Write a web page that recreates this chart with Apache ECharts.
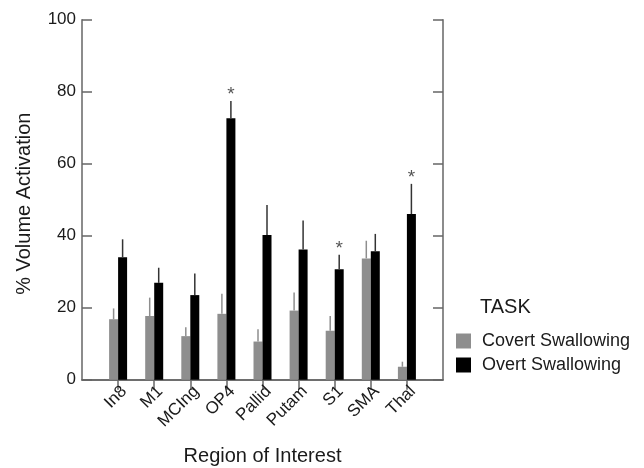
<!DOCTYPE html>
<html><head><meta charset="utf-8">
<script src="https://cdn.jsdelivr.net/npm/echarts@6/dist/echarts.min.js"></script>
<style>html,body{margin:0;padding:0;background:#fff}#c{width:644px;height:468px}</style>
</head><body><div id="c"></div>
<script>
const categories = ['In8','M1','MCIng','OP4','Pallid','Putam','S1','SMA','Thal'];
const covert = [16.8, 17.7, 12.1, 18.3, 10.6, 19.2, 13.6, 33.7, 3.6];
const covertErr = [19.8, 22.8, 14.6, 23.9, 14.0, 24.2, 17.7, 38.6, 5.0];
const overt = [34.0, 26.9, 23.5, 72.6, 40.2, 36.2, 30.7, 35.7, 46.0];
const overtErr = [39.0, 31.1, 29.5, 77.4, 48.5, 44.2, 34.7, 40.5, 54.4];
const significant = [0, 0, 0, 1, 0, 0, 1, 0, 1];
const yTicks = [0, 20, 40, 60, 80, 100];

const pad = a => [null, ...a, null];
const cats = ['', ...categories, ''];
const FONT = 'Liberation Sans, Arial, Helvetica, sans-serif';
const GRAY = '#8e8e8e';
const AXIS = '#666';
const TXT = '#1a1a1a';
const BW = 9;

function errSeries(name, vals, errs, offset, color, sig) {
  const data = pad(vals.map((v, i) => [i + 1, v, errs[i], sig ? sig[i] : 0]));
  return {
    type: 'custom', name: name + 'err', xAxisIndex: 0, yAxisIndex: 0,
    silent: true, z: 5,
    renderItem: (params, api) => {
      const i = api.value(0);
      const p0 = api.coord([i, api.value(1)]);
      const p1 = api.coord([i, api.value(2)]);
      const x = p0[0] + offset;
      const children = [{
        type: 'line',
        shape: { x1: x, y1: p0[1], x2: x, y2: p1[1] },
        style: { stroke: color, lineWidth: 1.5 }
      }];
      if (api.value(3)) {
        children.push({
          type: 'text',
          style: { text: '*', x: x, y: p1[1] + 3, align: 'center', verticalAlign: 'bottom',
                   fill: '#555', fontSize: 19, fontFamily: FONT }
        });
      }
      return { type: 'group', children };
    },
    data: data.map((d, i) => d === null ? [i, null, null, 0] : d)
  };
}

const chart = echarts.init(document.getElementById('c'), null, { renderer: 'canvas' });
chart.setOption({
  animation: false,
  backgroundColor: '#fff',
  textStyle: { fontFamily: FONT },
  title: {
    text: 'TASK', left: 480, top: 297, padding: 0,
    textStyle: { fontSize: 20, fontWeight: 'normal', color: TXT, fontFamily: FONT }
  },
  legend: {
    orient: 'vertical', left: 456, top: 332, itemWidth: 15, itemHeight: 15, itemGap: 6,
    icon: 'rect', padding: 0,
    data: ['Covert Swallowing', 'Overt Swallowing'],
    textStyle: { fontSize: 18, color: TXT, fontFamily: FONT, padding: [0, 0, 0, 6] }
  },
  grid: { left: 82, right: 201, top: 19.7, bottom: 88.3, containLabel: false, outerBoundsMode: 'none' },
  xAxis: [{
    type: 'category', data: cats, boundaryGap: false, position: 'bottom',
    axisLine: { lineStyle: { color: AXIS, width: 1.5 } },
    axisTick: { show: false },
    axisLabel: { rotate: 45, fontSize: 17, color: TXT, margin: 3, interval: 0, fontFamily: FONT,
                 align: 'right', verticalAlign: 'top' },
    name: 'Region of Interest', nameLocation: 'middle', nameGap: 67,
    nameTextStyle: { fontSize: 20, color: TXT, fontFamily: FONT }
  }, {
    type: 'category', data: cats, boundaryGap: false, position: 'top',
    axisLine: { lineStyle: { color: AXIS, width: 1.5 } },
    axisTick: { show: true, inside: true, length: 10, lineStyle: { color: AXIS, width: 1.5 },
                interval: (idx) => idx > 0 && idx < cats.length - 1 },
    axisLabel: { show: false }
  }],
  yAxis: [{
    type: 'value', min: yTicks[0], max: yTicks[yTicks.length - 1], interval: 20, position: 'left',
    axisLine: { show: true, lineStyle: { color: AXIS, width: 1.5 } },
    axisTick: { show: true, inside: true, length: 10, lineStyle: { color: AXIS, width: 1.5 } },
    splitLine: { show: false },
    axisLabel: { fontSize: 17, color: TXT, margin: 6, fontFamily: FONT },
    name: '% Volume Activation', nameLocation: 'middle', nameGap: 48,
    nameTextStyle: { fontSize: 20, color: TXT, fontFamily: FONT, padding: [0, 8, 0, 0] }
  }, {
    type: 'value', min: yTicks[0], max: yTicks[yTicks.length - 1], interval: 20, position: 'right',
    axisLine: { show: true, lineStyle: { color: AXIS, width: 1.5 } },
    axisTick: { show: true, inside: true, length: 10, lineStyle: { color: AXIS, width: 1.5 } },
    splitLine: { show: false },
    axisLabel: { show: false }
  }],
  series: [{
    type: 'bar', name: 'Covert Swallowing', data: pad(covert), barWidth: BW, barGap: '0%',
    itemStyle: { color: GRAY }, z: 3
  }, {
    type: 'bar', name: 'Overt Swallowing', data: pad(overt), barWidth: BW, barGap: '0%',
    itemStyle: { color: '#000' }, z: 3
  },
  errSeries('covert', covert, covertErr, -BW / 2, GRAY, null),
  errSeries('overt', overt, overtErr, BW / 2, '#333', significant)
  ]
});
</script></body></html>
